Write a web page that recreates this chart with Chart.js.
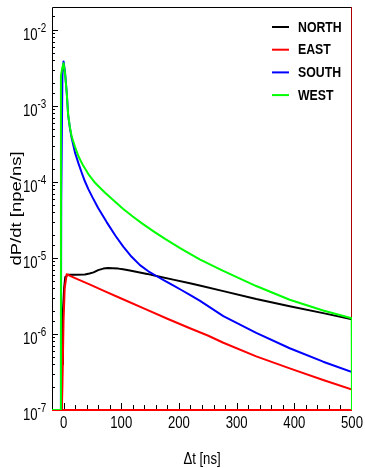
<!DOCTYPE html>
<html>
<head>
<meta charset="utf-8">
<script src="https://cdn.jsdelivr.net/npm/chart.js@4.4.1/dist/chart.umd.min.js"></script>
<style>
  html, body { margin: 0; padding: 0; background: #fff; }
  canvas { display: block; }
</style>
</head>
<body>
<canvas id="grafica" width="365" height="468"></canvas>
<script>
// valores: Δt en ns, dP/dt en npe/ns
const tNorth = [-20, -3, -2.5, -1, 1, 3, 8, 20, 37, 45, 52, 60, 69, 77, 85, 95, 103, 115, 130, 145, 161, 190, 219, 236, 277, 334, 392, 450, 500];
const north  = [1e-7, 1e-7, 4e-7, 2e-6, 4e-6, 5.62e-6, 6.0e-6, 6.0e-6, 6.05e-6, 6.24e-6, 6.46e-6, 6.92e-6, 7.24e-6, 7.36e-6, 7.33e-6, 7.24e-6, 7.11e-6, 6.84e-6, 6.50e-6, 6.17e-6, 5.79e-6, 5.19e-6, 4.65e-6, 4.35e-6, 3.66e-6, 2.88e-6, 2.32e-6, 1.88e-6, 1.56e-6];

const tEast = [-3, -2, 0, 2, 5.5, 20, 34, 46, 70, 100, 144, 180, 219, 250, 277, 334, 392, 450, 500];
const east  = [1e-7, 2e-7, 1.5e-6, 4e-6, 6.1e-6, 5.43e-6, 4.88e-6, 4.45e-6, 3.69e-6, 2.93e-6, 2.09e-6, 1.585e-6, 1.19e-6, 9.55e-7, 7.67e-7, 5.07e-7, 3.53e-7, 2.48e-7, 1.86e-7];

const tSouth = [-20, -5, -4.5, -4, -2, 0, 2.5, 5.5, 8, 11, 14, 20, 26, 31.5, 37, 43, 50, 60, 75, 90, 103.5, 118, 132.5, 147, 161, 175, 190, 205, 219, 236, 277, 334, 392, 450, 500];
const south  = [1e-7, 1e-7, 7e-7, 5.5e-5, 2.5e-3, 3.85e-3, 2.82e-3, 1.51e-3, 7.59e-4, 5.13e-4, 3.80e-4, 2.41e-4, 1.74e-4, 1.32e-4, 1.02e-4, 8.04e-5, 6.31e-5, 4.55e-5, 2.94e-5, 1.96e-5, 1.41e-5, 1.035e-5, 8.04e-6, 6.68e-6, 5.79e-6, 5.05e-6, 4.37e-6, 3.76e-6, 3.26e-6, 2.75e-6, 1.72e-6, 1.035e-6, 6.49e-7, 4.32e-7, 3.16e-7];

const tWest = [-20, -5, -4.5, -2, 0, 2.5, 5.5, 8, 11, 14, 20, 26, 34, 43, 55, 72, 87, 103, 120, 136, 156, 176, 202, 236, 274, 334, 392, 450, 499.5, 500];
const west  = [1e-7, 1e-7, 2.5e-3, 3.2e-3, 3.65e-3, 2.69e-3, 1.51e-3, 7.59e-4, 5.25e-4, 3.98e-4, 2.88e-4, 2.16e-4, 1.64e-4, 1.27e-4, 9.66e-5, 7.19e-5, 5.69e-5, 4.45e-5, 3.51e-5, 2.85e-5, 2.24e-5, 1.78e-5, 1.35e-5, 9.55e-6, 6.92e-6, 4.27e-6, 2.82e-6, 2.04e-6, 1.61e-6, 1e-7];

const seriesNames  = ['NORTH', 'EAST', 'SOUTH', 'WEST'];
const seriesColors = ['#000000', '#ff0000', '#0000ff', '#00ff00'];
const seriesT      = [tNorth, tEast, tSouth, tWest];
const seriesV      = [north, east, south, west];

const xLabels  = [0, 100, 200, 300, 400, 500];
const yDecades = [-7, -6, -5, -4, -3, -2];

const FONT = '"Liberation Sans", Arial, sans-serif';
const SQ = 0.82; // letra estrecha como en la figura

function squeezed(ctx, text, x, y, font, align) {
  ctx.save();
  ctx.translate(x, y);
  ctx.scale(SQ, 1);
  ctx.font = font;
  ctx.textAlign = align;
  ctx.textBaseline = 'alphabetic';
  ctx.fillText(text, 0, 0);
  ctx.restore();
}

function isDecade(v) {
  const e = Math.round(Math.log10(v));
  return Math.abs(v / Math.pow(10, e) - 1) < 1e-6;
}

// marco y marcas hacia dentro, estilo ROOT
const frameAndTicks = {
  id: 'frameAndTicks',
  beforeDatasetsDraw(chart) {
    const {ctx, chartArea: a, scales: {x, y}} = chart;
    ctx.save();
    ctx.lineWidth = 1;
    ctx.strokeStyle = '#000';
    ctx.beginPath();
    y.ticks.forEach(tk => {
      if (tk.value <= y.min * 1.0001 || tk.value >= y.max) return;
      const py = Math.round(y.getPixelForValue(tk.value)) + 0.5;
      const len = isDecade(tk.value) ? 6 : 3;
      ctx.moveTo(a.left, py);
      ctx.lineTo(a.left + len, py);
    });
    x.ticks.forEach(tk => {
      if (tk.value <= x.min || tk.value >= x.max) return;
      const px = Math.round(x.getPixelForValue(tk.value)) + 0.5;
      const len = tk.value % 100 === 0 ? 7 : 5;
      ctx.moveTo(px, a.bottom);
      ctx.lineTo(px, a.bottom - len);
    });
    // lados izquierdo y superior
    ctx.moveTo(a.left + 0.5, a.bottom);
    ctx.lineTo(a.left + 0.5, a.top + 0.5);
    ctx.lineTo(a.right, a.top + 0.5);
    ctx.stroke();

    ctx.strokeStyle = '#aa0000';
    ctx.beginPath();
    ctx.moveTo(a.right - 0.5, a.top);
    ctx.lineTo(a.right - 0.5, a.bottom);
    ctx.stroke();

    ctx.strokeStyle = '#ff0000';
    ctx.lineWidth = 2;
    ctx.beginPath();
    ctx.moveTo(a.left, a.bottom);
    ctx.lineTo(a.right, a.bottom);
    ctx.stroke();
    ctx.restore();
  },
  afterDraw(chart) {
    const {ctx, chartArea: a, scales: {x, y}} = chart;
    ctx.save();
    ctx.fillStyle = '#000';

    // etiquetas del eje y: 10^n
    yDecades.forEach(e => {
      const py = y.getPixelForValue(Math.pow(10, e));
      squeezed(ctx, '10', a.left - 14.5, py + 10, '16px ' + FONT, 'right');
      squeezed(ctx, String(e), a.left - 14.5, py + 2, '12px ' + FONT, 'left');
    });

    // etiquetas del eje x
    xLabels.forEach(v => {
      squeezed(ctx, String(v), x.getPixelForValue(v), a.bottom + 18.3, '16px ' + FONT, 'center');
    });

    // titulos
    squeezed(ctx, 'Δt [ns]', (a.left + a.right) / 2, 463.5, '16px ' + FONT, 'center');

    ctx.save();
    ctx.translate(17, (a.top + a.bottom) / 2);
    ctx.scale(SQ, 1);
    ctx.rotate(-Math.PI / 2);
    ctx.font = '18.5px ' + FONT;
    ctx.textAlign = 'center';
    ctx.textBaseline = 'middle';
    ctx.fillText('dP/dt [npe/ns]', 0, 0);
    ctx.restore();

    // leyenda
    seriesNames.forEach((name, i) => {
      const ty = 30 + i * 22.7;
      ctx.strokeStyle = seriesColors[i];
      ctx.lineWidth = 2;
      ctx.beginPath();
      ctx.moveTo(a.right - 80, ty - 3);
      ctx.lineTo(a.right - 63, ty - 3);
      ctx.stroke();
      squeezed(ctx, name, a.right - 54, ty + 1.5, 'bold 15px ' + FONT, 'left');
    });
    ctx.restore();
  }
};

const ctx = document.getElementById('grafica').getContext('2d');

new Chart(ctx, {
  type: 'line',
  data: {
    datasets: seriesNames.map((name, i) => ({
      label: name,
      data: seriesT[i].map((t, k) => ({x: t, y: seriesV[i][k]})),
      borderColor: seriesColors[i],
      backgroundColor: seriesColors[i],
      borderWidth: 2,
      borderJoinStyle: 'round',
      pointRadius: 0,
      tension: 0,
      order: seriesNames.length - i
    }))
  },
  options: {
    responsive: false,
    animation: false,
    devicePixelRatio: 1,
    layout: { padding: { top: 7, right: 13, left: 0, bottom: 0 } },
    plugins: {
      legend: { display: false },
      tooltip: { enabled: false }
    },
    scales: {
      x: {
        type: 'linear',
        min: -20,
        max: 500,
        grid: { display: false, drawTicks: false },
        border: { display: false },
        ticks: { display: false, stepSize: 20, autoSkip: false },
        afterFit: s => { s.height = 58; }
      },
      y: {
        type: 'logarithmic',
        min: 1e-7,
        max: 0.02,
        grid: { display: false, drawTicks: false },
        border: { display: false },
        ticks: { display: false, autoSkip: false },
        afterFit: s => { s.width = 52; }
      }
    }
  },
  plugins: [frameAndTicks]
});
</script>
</body>
</html>
